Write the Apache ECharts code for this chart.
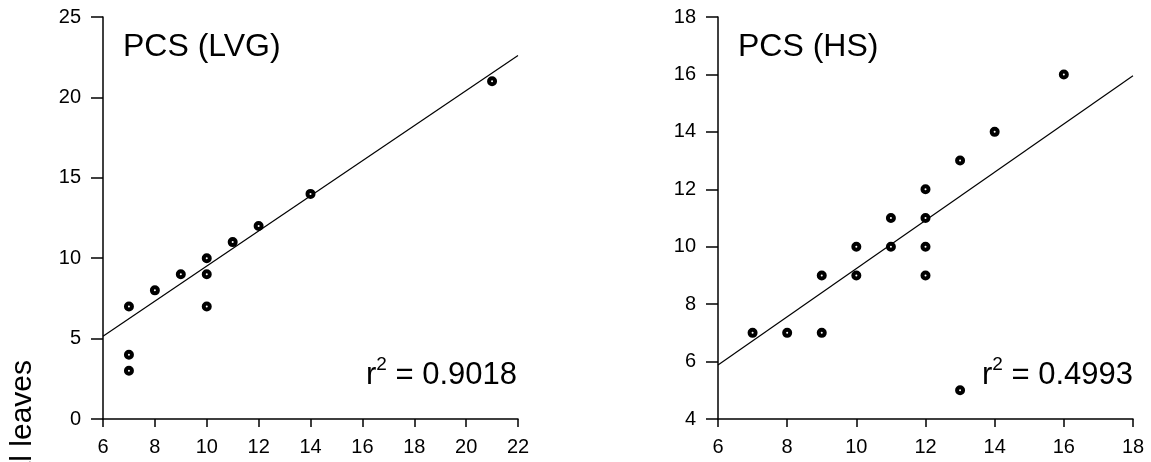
<!DOCTYPE html>
<html>
<head>
<meta charset="utf-8">
<script src="https://cdn.jsdelivr.net/npm/echarts@6/dist/echarts.min.js"></script>
<style>
html,body{margin:0;padding:0;background:#fff;}
#chart{width:1151px;height:462px;}
</style>
</head>
<body>
<div id="chart"></div>
<script>
// ---- Data ----
const lvgX = [7, 7, 7, 8, 9, 10, 10, 10, 11, 12, 14, 21];
const lvgY = [7, 4, 3, 8, 9, 10, 9, 7, 11, 12, 14, 21];
const lvgFitX = [6, 22];
const lvgFitY = [5.15, 22.6];
const lvgTitle = 'PCS (LVG)';
const lvgR2 = '0.9018';

const hsX = [7, 8, 9, 9, 10, 10, 11, 11, 12, 12, 12, 12, 13, 13, 14, 16];
const hsY = [7, 7, 7, 9, 10, 9, 10, 11, 12, 11, 10, 9, 13, 5, 14, 16];
const hsFitX = [6, 18];
const hsFitY = [5.88, 15.95];
const hsTitle = 'PCS (HS)';
const hsR2 = '0.4993';

const lvgXTicks = {min: 6, max: 22, interval: 2};
const lvgYTicks = {min: 0, max: 25, interval: 5};
const hsXTicks = {min: 6, max: 18, interval: 2};
const hsYTicks = {min: 4, max: 18, interval: 2};
const yAxisLabel = 'Total leaves';

// ---- Chart ----
const FAMILY = 'Liberation Sans';
const pairs = (xs, ys) => xs.map((x, i) => [x, ys[i]]);

function xAxisOf(t, idx) {
  return {
    type: 'value', gridIndex: idx, min: t.min, max: t.max, interval: t.interval,
    axisLine: {show: true, onZero: false, lineStyle: {color: '#000', width: 1.5}},
    axisTick: {show: true, length: 8, lineStyle: {color: '#000', width: 1.5}},
    axisLabel: {color: '#000', fontSize: 20, fontFamily: FAMILY, margin: 18, showMinLabel: true, showMaxLabel: true, hideOverlap: false},
    splitLine: {show: false}
  };
}
function yAxisOf(t, idx) {
  return {
    type: 'value', gridIndex: idx, min: t.min, max: t.max, interval: t.interval,
    axisLine: {show: true, onZero: false, lineStyle: {color: '#000', width: 1.5}},
    axisTick: {show: true, length: 12, lineStyle: {color: '#000', width: 1.5}},
    axisLabel: {color: '#000', fontSize: 20, fontFamily: FAMILY, margin: 22, showMinLabel: true, showMaxLabel: true, hideOverlap: false},
    splitLine: {show: false}
  };
}
function scatterOf(xs, ys, idx) {
  return {
    type: 'scatter', xAxisIndex: idx, yAxisIndex: idx, data: pairs(xs, ys),
    symbol: 'circle', symbolSize: 6, z: 5, silent: true,
    itemStyle: {color: '#fff', borderColor: '#000', borderWidth: 4, opacity: 1}
  };
}
function fitOf(xs, ys, idx) {
  return {
    type: 'line', xAxisIndex: idx, yAxisIndex: idx, data: pairs(xs, ys),
    showSymbol: false, symbol: 'none', silent: true, z: 3,
    lineStyle: {color: '#000', width: 1.2}
  };
}
function r2Text(x, y, val) {
  return {
    type: 'text', x: x, y: y, silent: true,
    style: {
      text: '{r|r}{s|2}{r| = ' + val + '}',
      align: 'right', textAlign: 'right',
      verticalAlign: 'middle', textVerticalAlign: 'middle',
      rich: {
        r: {fontSize: 31, fontFamily: FAMILY, color: '#000', lineHeight: 40},
        s: {fontSize: 19, fontFamily: FAMILY, color: '#000', lineHeight: 19, verticalAlign: 'top'}
      }
    }
  };
}
function titleText(x, y, txt) {
  return {
    type: 'text', x: x, y: y, silent: true,
    style: {
      text: txt, fill: '#000', fontSize: 32, fontFamily: FAMILY,
      align: 'left', textAlign: 'left',
      verticalAlign: 'middle', textVerticalAlign: 'middle'
    }
  };
}

const chart = echarts.init(document.getElementById('chart'), null, {renderer: 'canvas'});
chart.setOption({
  backgroundColor: '#fff',
  animation: false,
  grid: [
    {left: 103, top: 17, width: 415, height: 402},
    {left: 718, top: 17, width: 415, height: 402}
  ],
  xAxis: [xAxisOf(lvgXTicks, 0), xAxisOf(hsXTicks, 1)],
  yAxis: [yAxisOf(lvgYTicks, 0), yAxisOf(hsYTicks, 1)],
  series: [
    fitOf(lvgFitX, lvgFitY, 0), scatterOf(lvgX, lvgY, 0),
    fitOf(hsFitX, hsFitY, 1), scatterOf(hsX, hsY, 1)
  ],
  graphic: [
    titleText(123, 47, lvgTitle),
    titleText(738, 47, hsTitle),
    r2Text(517, 375, lvgR2),
    r2Text(1133, 375, hsR2),
    {
      type: 'text', x: 38, y: 360, rotation: Math.PI / 2, silent: true,
      style: {
        text: yAxisLabel, fill: '#000', fontSize: 30, fontFamily: FAMILY,
        align: 'right', textAlign: 'right',
        verticalAlign: 'bottom', textVerticalAlign: 'bottom'
      }
    }
  ]
});
</script>
</body>
</html>
